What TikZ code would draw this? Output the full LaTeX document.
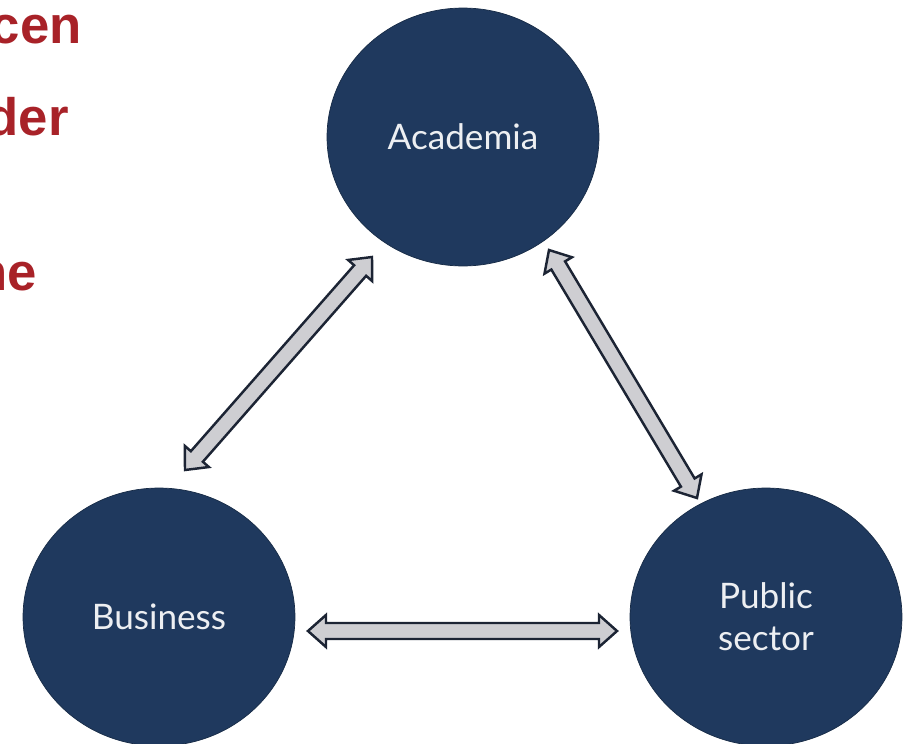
\documentclass[tikz,border=0pt]{standalone}
\usepackage{fontspec}
\setmainfont{Lato}
\newfontfamily\slidefont{Liberation Sans}
\usetikzlibrary{positioning, calc, shapes.geometric}

\definecolor{navy}{RGB}{31,57,94}
\definecolor{slidered}{RGB}{168,34,40}
\definecolor{linkgray}{RGB}{206,206,210}
\definecolor{linkline}{RGB}{28,36,52}

\begin{document}
\begin{tikzpicture}[
                x=0.02cm, y=-0.02cm,
                sector/.style={ellipse, fill=navy, draw=navy!75!black, thin, minimum width=5.44cm, minimum height=5.16cm, inner sep=0pt, text=white!92!navy, font=\fontsize{20}{24}\selectfont, align=center},
                link/.style={draw=linkline, fill=linkgray, line width=1.4pt, line join=miter},
                cutoff/.style={anchor=base east, inner sep=0pt, text=slidered, font=\slidefont\bfseries\fontsize{30}{36}\selectfont},
            ]
                \useasboundingbox (0,0) rectangle (904,744);
                \clip (0,0) rectangle (904,744);

                % Left-over slide title, cut at the edge
                \node[cutoff] (title-1) at (82,43) {cen};
                \node[cutoff] (title-2) at (69,135) {der};
                \node[cutoff] (title-3) at (37,290) {ne};

                % The three sectors
                \node[sector] (aca) at (463,137) {Academia};
                \node[sector] (bus) at (159,617) {Business};
                \node[sector] (pub) at (766,617) {Public\\sector};

                % Ends of the two-way arrows
                \coordinate (ab-1) at (185,470);
                \coordinate (ab-2) at (372,257);
                \coordinate (ap-1) at (549,250);
                \coordinate (ap-2) at (697,498);
                \coordinate (bp-1) at (308,631);
                \coordinate (bp-2) at (617,631);

                % Draw the two-way arrows between the sectors
                \foreach \p / \q in {ab-1/ab-2, ap-1/ap-2, bp-1/bp-2}
                    \draw[link] (\p)
                        -- ($(\p)!0.36cm!(\q)!0.32cm!90:(\q)$)
                        -- ($(\p)!0.36cm!(\q)!0.16cm!90:(\q)$)
                        -- ($(\q)!0.36cm!(\p)!0.16cm!90:(\q)$)
                        -- ($(\q)!0.36cm!(\p)!0.32cm!90:(\q)$)
                        -- (\q)
                        -- ($(\q)!0.36cm!(\p)!0.32cm!-90:(\q)$)
                        -- ($(\q)!0.36cm!(\p)!0.16cm!-90:(\q)$)
                        -- ($(\p)!0.36cm!(\q)!0.16cm!-90:(\q)$)
                        -- ($(\p)!0.36cm!(\q)!0.32cm!-90:(\q)$)
                        -- cycle;
            \end{tikzpicture}
\end{document}
